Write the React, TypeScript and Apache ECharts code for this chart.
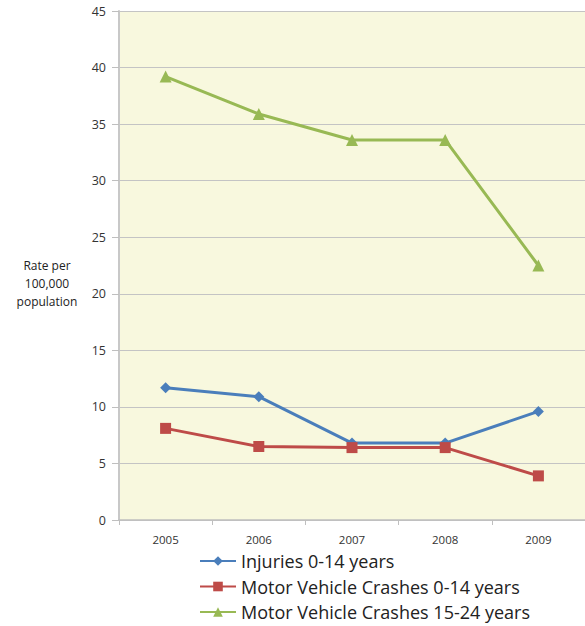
import React, { useEffect, useRef } from "react";
import * as echarts from "echarts";

const years = ["2005", "2006", "2007", "2008", "2009"];
const injuries014 = [11.7, 10.9, 6.8, 6.8, 9.6];
const mvc014 = [8.1, 6.5, 6.4, 6.4, 3.9];
const mvc1524 = [39.2, 35.9, 33.6, 33.6, 22.5];
const seriesNames = [
  "Injuries 0-14 years",
  "Motor Vehicle Crashes 0-14 years",
  "Motor Vehicle Crashes 15-24 years",
];

export default function App() {
  const ref = useRef<HTMLDivElement>(null);
  useEffect(() => {
    if (!ref.current) return;
    document.body.style.margin = "0";
    document.body.style.overflow = "hidden";
    const chart = echarts.init(ref.current, null, { renderer: "svg" });
    const font = "'Open Sans', 'Liberation Sans', sans-serif";
    const mk = (name: string, data: number[], color: string, symbol: string, size: number) => ({
      name,
      type: "line",
      data,
      symbol,
      symbolSize: size,
      showAllSymbol: true,
      lineStyle: { color, width: 3 },
      itemStyle: { color },
    });
    chart.setOption({
      animation: false,
      backgroundColor: "#ffffff",
      textStyle: { fontFamily: font },
      grid: {
        left: 119,
        right: -4,
        top: 11,
        bottom: 106,
        show: true,
        backgroundColor: "#F8F8DE",
        borderWidth: 0,
      },
      xAxis: {
        type: "category",
        data: years,
        boundaryGap: true,
        axisLine: { lineStyle: { color: "#BFBFBF", width: 1.5 } },
        axisTick: { show: true, length: 5, inside: false, lineStyle: { color: "#BFBFBF" } },
        axisLabel: { color: "#333", fontSize: 11.5, margin: 13, fontFamily: font },
      },
      yAxis: {
        type: "value",
        min: 0,
        max: 45,
        interval: 5,
        axisLine: { show: true, lineStyle: { color: "#C8C8C8", width: 2 } },
        axisTick: { show: true, length: 7, lineStyle: { color: "#BFBFBF" } },
        axisLabel: { color: "#333", fontSize: 12.5, margin: 13, fontFamily: font },
        splitLine: { lineStyle: { color: "#C4C4C4", width: 1.2 } },
      },
      legend: {
        orient: "vertical",
        left: 199,
        top: 552,
        padding: 0,
        itemWidth: 36,
        itemHeight: 12,
        itemGap: 7.5,
        data: seriesNames,
        textStyle: { fontSize: 18, color: "#222", fontFamily: font, lineHeight: 18 },
      },
      graphic: [
        {
          type: "text",
          x: 47,
          y: 256,
          style: {
            text: "Rate per\n100,000\npopulation",
            fontSize: 12,
            lineHeight: 18,
            fill: "#222",
            align: "center",
            fontFamily: font,
          },
        },
      ],
      series: [
        mk(seriesNames[0], injuries014, "#4A7EBB", "diamond", 11),
        mk(seriesNames[1], mvc014, "#BE4B48", "rect", 11),
        mk(seriesNames[2], mvc1524, "#98B954", "triangle", 12),
      ],
    });
    return () => chart.dispose();
  }, []);
  return <div ref={ref} style={{ position: "absolute", left: 0, top: 0, width: 585, height: 626 }} />;
}
